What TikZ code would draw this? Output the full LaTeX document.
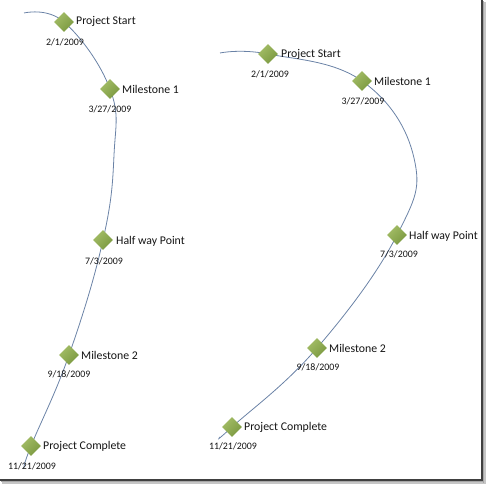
\documentclass[tikz,border=0pt]{standalone}
\usepackage{fontspec}
\setmainfont{Carlito}
\usetikzlibrary{shapes.geometric}
\definecolor{linec}{HTML}{6A82A6}
\definecolor{dlight}{HTML}{A3BD66}
\definecolor{ddark}{HTML}{7A9840}
\definecolor{txt}{HTML}{141414}
\tikzset{
  ms/.style={diamond,minimum width=20pt,minimum height=20pt,inner sep=0pt,
    shading=axis,top color=dlight,bottom color=ddark,shading angle=45},
  lbl/.style={anchor=west,inner sep=0pt,font=\fontsize{11.8}{12}\selectfont,text=txt},
  dt/.style={inner sep=0pt,font=\fontsize{9.9}{10}\selectfont,text=txt},
  tl/.style={draw=linec,line width=0.8pt}
}
\begin{document}
\begin{tikzpicture}[x=1pt,y=-1pt]
\useasboundingbox (0,0) rectangle (486,484);
% frame with shadow
\fill[gray!45] (484,2) rectangle (486,484);
\fill[gray!45] (2,482) rectangle (486,484);
\fill[gray!70] (483,1) rectangle (484,483);
\fill[gray!70] (1,481) rectangle (484,482);
\draw[black!75,line width=1.6pt] (482,0) -- (482,479.8) -- (0,479.8);

% left timeline
\coordinate (ls) at (24,13);
\coordinate (la) at (114,155);
\coordinate (le) at (24,468);
\coordinate (L1) at (64,22);
\coordinate (L2) at (110,89);
\coordinate (L3) at (103,240);
\coordinate (L4) at (69,355);
\coordinate (L5) at (31,446);
\draw[tl] plot[smooth,tension=0.7] coordinates {(ls) (L1) (L2) (la) (L3) (L4) (L5) (le)};

% right timeline
\coordinate (rs) at (220,53);
\coordinate (ra) at (414,158);
\coordinate (re) at (220,437);
\coordinate (R1) at (268,54);
\coordinate (R2) at (362,81);
\coordinate (R3) at (397,235);
\coordinate (R4) at (317,348);
\coordinate (R5) at (232,427);
\draw[tl] plot[smooth,tension=0.7] coordinates {(rs) (R1) (R2) (ra) (R3) (R4) (R5) (re)};

% left milestones
\node[ms] (l1) at (L1) {};
\node[lbl] (l1t) at (76,21) {Project Start};
\node[dt] (l1d) at (65,42) {2/1/2009};
\node[ms] (l2) at (L2) {};
\node[lbl] (l2t) at (122,89) {Milestone 1};
\node[dt] (l2d) at (110,109) {3/27/2009};
\node[ms] (l3) at (L3) {};
\node[lbl] (l3t) at (116,241) {Half way Point};
\node[dt] (l3d) at (104,261) {7/3/2009};
\node[ms] (l4) at (L4) {};
\node[lbl] (l4t) at (81,355) {Milestone 2};
\node[dt] (l4d) at (69,374) {9/18/2009};
\node[ms] (l5) at (L5) {};
\node[lbl] (l5t) at (43,446) {Project Complete};
\node[dt] (l5d) at (32,466) {11/21/2009};

% right milestones
\node[ms] (r1) at (R1) {};
\node[lbl] (r1t) at (281,54) {Project Start};
\node[dt] (r1d) at (270,74) {2/1/2009};
\node[ms] (r2) at (R2) {};
\node[lbl] (r2t) at (374,81) {Milestone 1};
\node[dt] (r2d) at (363,101) {3/27/2009};
\node[ms] (r3) at (R3) {};
\node[lbl] (r3t) at (409,236) {Half way Point};
\node[dt] (r3d) at (399,254) {7/3/2009};
\node[ms] (r4) at (R4) {};
\node[lbl] (r4t) at (329,348) {Milestone 2};
\node[dt] (r4d) at (318,367) {9/18/2009};
\node[ms] (r5) at (R5) {};
\node[lbl] (r5t) at (244,427) {Project Complete};
\node[dt] (r5d) at (233,446) {11/21/2009};
\end{tikzpicture}
\end{document}
